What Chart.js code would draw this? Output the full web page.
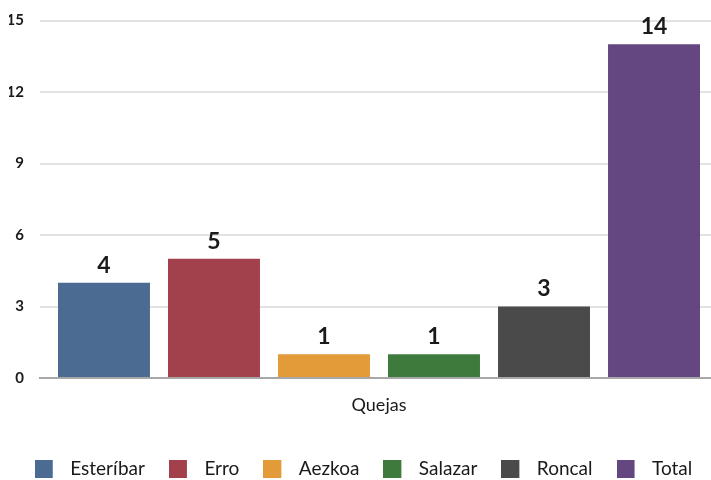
<!DOCTYPE html>
<html>
<head>
<meta charset="utf-8">
<script src="https://cdn.jsdelivr.net/npm/chart.js@4/dist/chart.umd.min.js"></script>
<style>
html,body{margin:0;padding:0;background:#fff;overflow:hidden;width:711px;height:480px;}
#wrap{width:718px;height:488px;position:relative;}
</style>
</head>
<body>
<div id="wrap"><canvas id="c" width="718" height="488"></canvas></div>
<script>
const categories = ['Quejas'];
const seriesNames = ['Esteríbar', 'Erro', 'Aezkoa', 'Salazar', 'Roncal', 'Total'];
const seriesValues = [4, 5, 1, 1, 3, 14];
const seriesColors = ['#4b6b92', '#a2414b', '#e29b38', '#3f7a3d', '#4a4a4a', '#644781'];
const yTicks = [0, 3, 6, 9, 12, 15];

const FONT = 'Lato, "DejaVu Sans", sans-serif';

// legend swatch images: square on the left, transparent space to its right
const swatches = seriesColors.map(col => {
  const cv = document.createElement('canvas');
  cv.width = 26; cv.height = 18;
  const g = cv.getContext('2d');
  g.fillStyle = col;
  g.fillRect(0, 0, 18, 18);
  return cv;
});

const valueLabels = {
  id: 'valueLabels',
  afterDatasetsDraw(chart) {
    const ctx = chart.ctx;
    ctx.save();
    ctx.font = 'bold 23px ' + FONT;
    ctx.fillStyle = '#1a1a1a';
    ctx.textAlign = 'center';
    ctx.textBaseline = 'bottom';
    chart.data.datasets.forEach((ds, i) => {
      const meta = chart.getDatasetMeta(i);
      meta.data.forEach((bar, j) => {
        ctx.fillText(String(ds.data[j]), bar.x, bar.y - 6);
      });
    });
    ctx.restore();
  }
};

new Chart(document.getElementById('c'), {
  type: 'bar',
  data: {
    labels: categories,
    datasets: seriesNames.map((n, i) => ({
      label: n,
      data: [seriesValues[i]],
      backgroundColor: seriesColors[i],
      borderWidth: 0
    }))
  },
  options: {
    responsive: false,
    animation: false,
    devicePixelRatio: 1,
    layout: { padding: { top: 20.5, right: 0, left: 9, bottom: 0 } },
    datasets: { bar: { categoryPercentage: 0.9735, barPercentage: 0.836 } },
    scales: {
      x: {
        grid: { display: false, drawTicks: false },
        border: { display: true, color: '#a8a8a8', width: 2 },
        ticks: { color: '#1a1a1a', font: { family: FONT, size: 18 }, padding: 16 },
        afterFit(s) { s.height = 57; }
      },
      y: {
        min: 0, max: 15,
        afterBuildTicks(s) { s.ticks = yTicks.map(v => ({ value: v })); },
        grid: { color: '#e2e2e2', lineWidth: 2, drawTicks: false },
        border: { display: false },
        ticks: { color: '#1a1a1a', font: { family: FONT, size: 15, weight: 'bold' }, padding: 16 },
        afterFit(s) { s.width = 31; s.paddingTop = 0; s.paddingBottom = 0; }
      }
    },
    plugins: {
      legend: {
        position: 'bottom',
        labels: {
          usePointStyle: true,
          pointStyleWidth: 26,
          boxHeight: 18,
          padding: 24,
          color: '#1a1a1a',
          font: { family: FONT, size: 19 },
          generateLabels(chart) {
            return Chart.defaults.plugins.legend.labels.generateLabels(chart)
              .map((l, i) => Object.assign(l, { pointStyle: swatches[i] }));
          }
        }
      },
      tooltip: { enabled: false }
    }
  },
  plugins: [valueLabels]
});
</script>
</body>
</html>
